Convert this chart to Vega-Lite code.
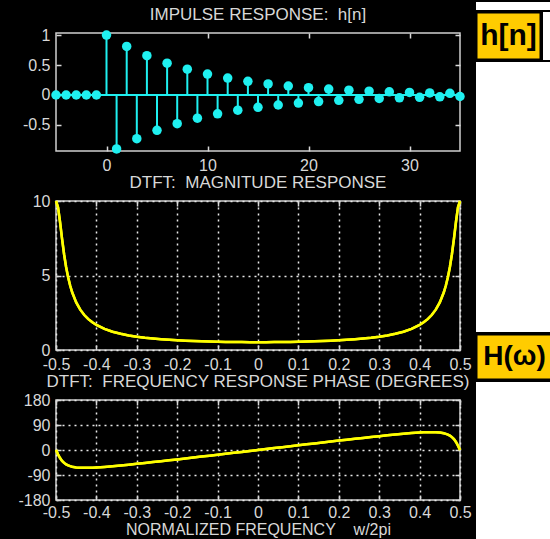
{
  "$schema": "https://vega.github.io/schema/vega-lite/v6.json",
  "background": "black",
  "padding": {"left": 17, "top": 2, "right": 0, "bottom": 0},
  "datasets": {
    "h": [
      {"n": -5, "h": 0}, {"n": -4, "h": 0}, {"n": -3, "h": 0}, {"n": -2, "h": 0}, {"n": -1, "h": 0},
      {"n": 0, "h": 1}, {"n": 1, "h": -0.9}, {"n": 2, "h": 0.81}, {"n": 3, "h": -0.729},
      {"n": 4, "h": 0.6561}, {"n": 5, "h": -0.59049}, {"n": 6, "h": 0.531441}, {"n": 7, "h": -0.478297},
      {"n": 8, "h": 0.430467}, {"n": 9, "h": -0.38742}, {"n": 10, "h": 0.348678}, {"n": 11, "h": -0.313811},
      {"n": 12, "h": 0.28243}, {"n": 13, "h": -0.254187}, {"n": 14, "h": 0.228768}, {"n": 15, "h": -0.205891},
      {"n": 16, "h": 0.185302}, {"n": 17, "h": -0.166772}, {"n": 18, "h": 0.150095}, {"n": 19, "h": -0.135085},
      {"n": 20, "h": 0.121577}, {"n": 21, "h": -0.109419}, {"n": 22, "h": 0.098477}, {"n": 23, "h": -0.088629},
      {"n": 24, "h": 0.079766}, {"n": 25, "h": -0.07179}, {"n": 26, "h": 0.064611}, {"n": 27, "h": -0.05815},
      {"n": 28, "h": 0.052335}, {"n": 29, "h": -0.047101}, {"n": 30, "h": 0.042391}, {"n": 31, "h": -0.038152},
      {"n": 32, "h": 0.034337}, {"n": 33, "h": -0.030903}, {"n": 34, "h": 0.027813}, {"n": 35, "h": -0.025032}
    ],
    "dtft": [
      {"f": -0.5, "mag": 10, "phase": 0},
      {"f": -0.495, "mag": 9.584, "phase": -15.72},
      {"f": -0.49, "mag": 8.5904, "phase": -29.04},
      {"f": -0.485, "mag": 7.4561, "phase": -39.16},
      {"f": -0.48, "mag": 6.4292, "phase": -46.48},
      {"f": -0.475, "mag": 5.5761, "phase": -51.72},
      {"f": -0.47, "mag": 4.8863, "phase": -55.49},
      {"f": -0.465, "mag": 4.3295, "phase": -58.21},
      {"f": -0.46, "mag": 3.8763, "phase": -60.18},
      {"f": -0.45, "mag": 3.1928, "phase": -62.61},
      {"f": -0.44, "mag": 2.7076, "phase": -63.78},
      {"f": -0.43, "mag": 2.3485, "phase": -64.15},
      {"f": -0.42, "mag": 2.0733, "phase": -64.02},
      {"f": -0.41, "mag": 1.8563, "phase": -63.53},
      {"f": -0.4, "mag": 1.6813, "phase": -62.8},
      {"f": -0.38, "mag": 1.4173, "phase": -60.82},
      {"f": -0.36, "mag": 1.2285, "phase": -58.41},
      {"f": -0.34, "mag": 1.0875, "phase": -55.73},
      {"f": -0.32, "mag": 0.9789, "phase": -52.86},
      {"f": -0.3, "mag": 0.8931, "phase": -49.86},
      {"f": -0.28, "mag": 0.824, "phase": -46.76},
      {"f": -0.26, "mag": 0.7677, "phase": -43.59},
      {"f": -0.24, "mag": 0.7211, "phase": -40.37},
      {"f": -0.22, "mag": 0.6824, "phase": -37.11},
      {"f": -0.2, "mag": 0.6501, "phase": -33.81},
      {"f": -0.18, "mag": 0.623, "phase": -30.49},
      {"f": -0.16, "mag": 0.6004, "phase": -27.14},
      {"f": -0.14, "mag": 0.5815, "phase": -23.78},
      {"f": -0.12, "mag": 0.5659, "phase": -20.41},
      {"f": -0.1, "mag": 0.5533, "phase": -17.02},
      {"f": -0.08, "mag": 0.5433, "phase": -13.63},
      {"f": -0.06, "mag": 0.5358, "phase": -10.23},
      {"f": -0.04, "mag": 0.5305, "phase": -6.82},
      {"f": -0.02, "mag": 0.5274, "phase": -3.41},
      {"f": 0, "mag": 0.5263, "phase": 0},
      {"f": 0.02, "mag": 0.5274, "phase": 3.41},
      {"f": 0.04, "mag": 0.5305, "phase": 6.82},
      {"f": 0.06, "mag": 0.5358, "phase": 10.23},
      {"f": 0.08, "mag": 0.5433, "phase": 13.63},
      {"f": 0.1, "mag": 0.5533, "phase": 17.02},
      {"f": 0.12, "mag": 0.5659, "phase": 20.41},
      {"f": 0.14, "mag": 0.5815, "phase": 23.78},
      {"f": 0.16, "mag": 0.6004, "phase": 27.14},
      {"f": 0.18, "mag": 0.623, "phase": 30.49},
      {"f": 0.2, "mag": 0.6501, "phase": 33.81},
      {"f": 0.22, "mag": 0.6824, "phase": 37.11},
      {"f": 0.24, "mag": 0.7211, "phase": 40.37},
      {"f": 0.26, "mag": 0.7677, "phase": 43.59},
      {"f": 0.28, "mag": 0.824, "phase": 46.76},
      {"f": 0.3, "mag": 0.8931, "phase": 49.86},
      {"f": 0.32, "mag": 0.9789, "phase": 52.86},
      {"f": 0.34, "mag": 1.0875, "phase": 55.73},
      {"f": 0.36, "mag": 1.2285, "phase": 58.41},
      {"f": 0.38, "mag": 1.4173, "phase": 60.82},
      {"f": 0.4, "mag": 1.6813, "phase": 62.8},
      {"f": 0.41, "mag": 1.8563, "phase": 63.53},
      {"f": 0.42, "mag": 2.0733, "phase": 64.02},
      {"f": 0.43, "mag": 2.3485, "phase": 64.15},
      {"f": 0.44, "mag": 2.7076, "phase": 63.78},
      {"f": 0.45, "mag": 3.1928, "phase": 62.61},
      {"f": 0.46, "mag": 3.8763, "phase": 60.18},
      {"f": 0.465, "mag": 4.3295, "phase": 58.21},
      {"f": 0.47, "mag": 4.8863, "phase": 55.49},
      {"f": 0.475, "mag": 5.5761, "phase": 51.72},
      {"f": 0.48, "mag": 6.4292, "phase": 46.48},
      {"f": 0.485, "mag": 7.4561, "phase": 39.16},
      {"f": 0.49, "mag": 8.5904, "phase": 29.04},
      {"f": 0.495, "mag": 9.584, "phase": 15.72},
      {"f": 0.5, "mag": 10, "phase": 0}
    ],
    "lab1": [{"label": "h[n]"}],
    "lab2": [{"label": "H(ω)"}],
    "none": []
  },
  "config": {
    "font": "Liberation Sans",
    "view": {"stroke": "#d0d0d0", "strokeWidth": 1.5, "fill": "black"},
    "axis": {
      "domain": false, "labelColor": "#d8d8d8", "labelFont": "Liberation Sans", "labelFontSize": 16,
      "tickColor": "#d8d8d8", "tickSize": -5, "tickWidth": 1.5,
      "titleColor": "#d8d8d8", "titleFont": "Liberation Sans", "titleFontSize": 17, "titleFontWeight": "normal",
      "gridColor": "#e8e8e8", "gridDash": [2, 4], "gridWidth": 1.5, "gridOpacity": 1,
      "labelFlush": false, "labelOverlap": false
    },
    "axisX": {"labelPadding": 11},
    "axisY": {"labelPadding": 11},
    "title": {"color": "#d8d8d8", "font": "Liberation Sans", "fontSize": 17, "fontWeight": "normal", "offset": 1}
  },
  "spacing": 2,
  "hconcat": [
    {
      "bounds": "full",
      "spacing": 0,
      "vconcat": [
        {"width": 404, "height": 3, "data": {"name": "none"}, "mark": "text", "encoding": {}, "view": {"fill": null, "stroke": null}},
        {
          "bounds": "flush",
          "spacing": 50,
          "vconcat": [
            {
              "title": {"text": "IMPULSE RESPONSE:\u00a0 h[n]", "offset": 3},
              "width": 404, "height": 118,
              "data": {"name": "h"},
              "resolve": {"axis": {"x": "independent", "y": "independent"}},
              "layer": [
                {
                  "mark": {"type": "rule", "color": "#1ff0f0", "strokeWidth": 2},
                  "encoding": {"y": {"datum": 0, "type": "quantitative", "axis": null}}
                },
                {
                  "mark": {"type": "rule", "color": "#1ff0f0", "strokeWidth": 2},
                  "encoding": {
                    "x": {"field": "n", "type": "quantitative", "title": null,
                          "scale": {"domain": [-5, 35], "nice": false, "zero": false},
                          "axis": {"values": [0, 10, 20, 30], "grid": false, "labelOverlap": false}},
                    "y": {"field": "h", "type": "quantitative", "title": null,
                          "scale": {"domain": [-0.935, 1.035], "nice": false, "zero": false},
                          "axis": {"values": [-0.5, 0, 0.5, 1], "grid": false, "labelOverlap": false, "labelExpr": "'' + datum.value"}},
                    "y2": {"datum": 0}
                  }
                },
                {
                  "mark": {"type": "circle", "color": "#1ff0f0", "opacity": 1, "size": 90},
                  "encoding": {
                    "x": {"field": "n", "type": "quantitative", "title": null,
                          "axis": {"orient": "top", "values": [0, 10, 20, 30], "labels": false, "grid": false}},
                    "y": {"field": "h", "type": "quantitative", "title": null,
                          "axis": {"orient": "right", "values": [-0.5, 0, 0.5, 1], "labels": false, "grid": false}}
                  }
                }
              ]
            },
            {
              "title": {"text": "DTFT:\u00a0 MAGNITUDE RESPONSE"},
              "width": 404, "height": 149,
              "data": {"name": "dtft"},
              "resolve": {"axis": {"x": "independent", "y": "independent"}},
              "layer": [
                {
                  "mark": {"type": "line", "color": "#ffff00", "strokeWidth": 2.5},
                  "encoding": {
                    "x": {"field": "f", "type": "quantitative", "title": null,
                          "scale": {"domain": [-0.5, 0.5], "nice": false, "zero": false},
                          "axis": {"values": [-0.5, -0.4, -0.3, -0.2, -0.1, 0, 0.1, 0.2, 0.3, 0.4, 0.5], "grid": true, "labelExpr": "'' + datum.value"}},
                    "y": {"field": "mag", "type": "quantitative", "title": null,
                          "scale": {"domain": [0, 10], "nice": false},
                          "axis": {"values": [0, 5, 10], "grid": true, "labelExpr": "'' + datum.value"}}
                  }
                },
                {
                  "mark": {"type": "line", "color": "#ffff00", "strokeWidth": 2.5},
                  "encoding": {
                    "x": {"field": "f", "type": "quantitative", "title": null,
                          "axis": {"orient": "top", "values": [-0.5, -0.4, -0.3, -0.2, -0.1, 0, 0.1, 0.2, 0.3, 0.4, 0.5], "labels": false, "grid": false}},
                    "y": {"field": "mag", "type": "quantitative", "title": null,
                          "axis": {"orient": "right", "values": [0, 5, 10], "labels": false, "grid": false}}
                  }
                }
              ]
            },
            {
              "title": {"text": "DTFT:\u00a0 FREQUENCY RESPONSE PHASE (DEGREES)"},
              "width": 404, "height": 100,
              "data": {"name": "dtft"},
              "resolve": {"axis": {"x": "independent", "y": "independent"}},
              "layer": [
                {
                  "mark": {"type": "line", "color": "#ffff00", "strokeWidth": 2.5},
                  "encoding": {
                    "x": {"field": "f", "type": "quantitative", "title": "NORMALIZED FREQUENCY\u00a0\u00a0\u00a0 w/2pi",
                          "scale": {"domain": [-0.5, 0.5], "nice": false, "zero": false},
                          "axis": {"values": [-0.5, -0.4, -0.3, -0.2, -0.1, 0, 0.1, 0.2, 0.3, 0.4, 0.5], "grid": true, "labelExpr": "'' + datum.value", "labelPadding": 9, "titlePadding": 1, "titleFontSize": 16}},
                    "y": {"field": "phase", "type": "quantitative", "title": null,
                          "scale": {"domain": [-180, 180], "nice": false},
                          "axis": {"values": [-180, -90, 0, 90, 180], "grid": true, "labelExpr": "'' + datum.value"}}
                  }
                },
                {
                  "mark": {"type": "line", "color": "#ffff00", "strokeWidth": 2.5},
                  "encoding": {
                    "x": {"field": "f", "type": "quantitative", "title": null,
                          "axis": {"orient": "top", "values": [-0.5, -0.4, -0.3, -0.2, -0.1, 0, 0.1, 0.2, 0.3, 0.4, 0.5], "labels": false, "grid": false}},
                    "y": {"field": "phase", "type": "quantitative", "title": null,
                          "axis": {"orient": "right", "values": [-180, -90, 0, 90, 180], "labels": false, "grid": false}}
                  }
                }
              ]
            }
          ]
        }
      ]
    },
    {
      "bounds": "full",
      "spacing": 0,
      "vconcat": [
        {"width": 77, "height": 8, "data": {"name": "none"}, "mark": "text", "encoding": {}, "view": {"fill": "white", "stroke": null}},
        {
          "bounds": "full",
          "spacing": 0,
          "hconcat": [
            {"width": 65, "height": 48, "data": {"name": "lab1"},
             "mark": {"type": "text", "font": "Liberation Sans", "fontSize": 30, "fontWeight": "bold", "color": "black", "baseline": "middle", "align": "center"},
             "encoding": {"text": {"field": "label"}},
             "view": {"fill": "#ffcc00", "stroke": "black", "strokeWidth": 3}},
            {"width": 12, "height": 48, "data": {"name": "none"}, "mark": "text", "encoding": {}, "view": {"fill": "white", "stroke": null}}
          ]
        },
        {"width": 77, "height": 270, "data": {"name": "none"}, "mark": "text", "encoding": {}, "view": {"fill": "white", "stroke": null}},
        {"width": 77, "height": 46, "data": {"name": "lab2"},
         "mark": {"type": "text", "font": "Liberation Sans", "fontSize": 28, "fontWeight": "bold", "color": "black", "baseline": "middle", "align": "center"},
         "encoding": {"text": {"field": "label"}},
         "view": {"fill": "#ffcc00", "stroke": "black", "strokeWidth": 3}},
        {"width": 77, "height": 170, "data": {"name": "none"}, "mark": "text", "encoding": {}, "view": {"fill": "white", "stroke": null}}
      ]
    }
  ]
}
